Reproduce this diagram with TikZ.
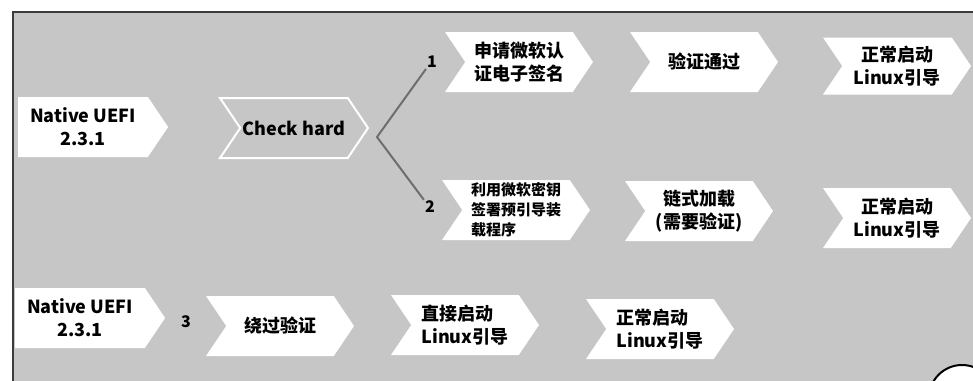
\documentclass[tikz,border=0pt]{standalone}
\usepackage{fontspec}
\setmainfont{Noto Sans CJK SC}
\usetikzlibrary{shapes.symbols, positioning}
\definecolor{panelgray}{HTML}{C6C6C6}
\definecolor{framegray}{HTML}{3C3C3C}
\definecolor{forkgray}{HTML}{6E6E6E}

\begin{document}
\begin{tikzpicture}[x=1pt, y=-1pt,
        chev/.style={shape=signal, signal to=east, signal from=west, signal pointer angle=112, fill=white, minimum width=148pt, minimum height=60pt, inner sep=0pt, align=center, font=\fontsize{18}{23}\selectfont\bfseries},
        startchev/.style={shape=signal, signal to=east, signal pointer angle=112, fill=white, minimum width=150pt, minimum height=60pt, inner sep=0pt, align=center, font=\fontsize{18}{23}\selectfont\bfseries},
        num/.style={font=\fontsize{16}{16}\selectfont\bfseries, inner sep=1pt},
        fork/.style={forkgray, line width=2pt}
    ]
        \useasboundingbox (0,0) rectangle (973,380);

        % Panel
        \fill[panelgray] (13,12) rectangle (990,400);
        \draw[framegray, line width=1.5pt] (990,12) -- (13,12) -- (13,400);

        % Native UEFI
        \node[startchev] (su) at (83,127) {Native UEFI\\2.3.1};
        \node[startchev] (sb) at (80,318) {Native UEFI\\2.3.1};

        % Check
        \node[chev, fill=panelgray, draw=white, line width=2pt] (ch) at (294,128) {Check hard};

        % Path 1
        \node[chev] (a1) at (519,62) {申请微软认\\证电子签名};
        \node[chev] (a2) at (704,62) {验证通过};
        \node[chev, minimum height=57pt] (a3) at (897,66) {正常启动\\Linux引导};

        % Path 2
        \node[chev, align=left, font=\fontsize{15}{20}\selectfont\bfseries] (b1) at (516,210) {利用微软密钥\\签署预引导装\\载程序};
        \node[chev] (b2) at (699,211) {链式加载\\(需要验证)};
        \node[chev] (b3) at (897,218) {正常启动\\Linux引导};

        % Path 3
        \node[chev] (c1) at (280,326) {绕过验证};
        \node[chev, align=left] (c2) at (465,325) {直接启动\\Linux引导};
        \node[chev, align=left] (c3) at (660,329) {正常启动\\Linux引导};

        % Numbers
        \node[num] (n1) at (432,62) {1};
        \node[num] (n2) at (430,207) {2};
        \node[num] (n3) at (186,322) {3};

        % Fork
        \coordinate (split) at (377,137);
        \draw[fork] (n1.south west) -- (split) -- (n2.north west);

        % Figure mark
        \draw[black, line width=2pt, fill=white] (962,398) circle (33pt);

    \end{tikzpicture}
\end{document}
